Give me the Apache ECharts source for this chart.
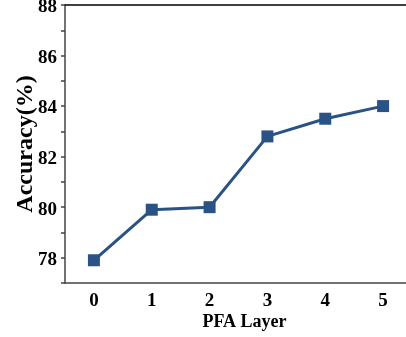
<!DOCTYPE html>
<html>
<head>
<meta charset="utf-8">
<script src="https://cdn.jsdelivr.net/npm/echarts@6/dist/echarts.min.js"></script>
<style>
  html, body { margin: 0; padding: 0; background: #fff; }
  #main { width: 406px; height: 337px; }
</style>
</head>
<body>
<div id="main"></div>
<script>
// PFA layer count vs accuracy
var layers = ["0", "1", "2", "3", "4", "5"];
var accuracy = [77.9, 79.9, 80.0, 82.8, 83.5, 84.0];

var font = "'Liberation Serif', 'Times New Roman', serif";
var chart = echarts.init(document.getElementById("main"));

var option = {
  animation: false,
  grid: { left: 65, right: -6, top: 5, bottom: 54, outerBoundsMode: "none", containLabel: false },
  xAxis: [
    {
      type: "category",
      data: layers,
      boundaryGap: true,
      name: "PFA Layer",
      nameLocation: "middle",
      nameGap: 30,
      nameMoveOverlap: false,
      nameTextStyle: { fontFamily: font, fontWeight: "bold", fontSize: 18, color: "#000", padding: [0, 0, 0, 12] },
      axisLine: { lineStyle: { color: "#444", width: 1.5 } },
      axisTick: { alignWithLabel: true, length: 5, lineStyle: { color: "#444", width: 1.5 } },
      axisLabel: { fontFamily: font, fontWeight: "bold", fontSize: 19, color: "#000", margin: 9 }
    },
    {
      type: "category",
      data: layers,
      position: "top",
      axisLine: { lineStyle: { color: "#000", width: 1.5 } },
      axisTick: { show: false },
      axisLabel: { show: false }
    }
  ],
  yAxis: {
    type: "value",
    min: 77,
    max: 88,
    interval: 1,
    name: "Accuracy(%)",
    nameLocation: "middle",
    nameGap: 27,
    nameMoveOverlap: false,
    nameTextStyle: { fontFamily: font, fontWeight: "bold", fontSize: 24, color: "#000" },
    axisLine: { show: true, lineStyle: { color: "#444", width: 1.5 } },
    axisTick: { show: true, length: 4, lineStyle: { color: "#444", width: 1.5 } },
    splitLine: { show: false },
    axisLabel: {
      color: "#000", margin: 8,
      formatter: function (v) { return v % 2 === 0 ? "{v|" + v + "}" : ""; },
      rich: {
        v: { fontFamily: font, fontWeight: "bold", fontSize: 19, color: "#000", padding: [5, 0, 0, 0] }
      }
    }
  },
  series: [
    {
      type: "line",
      data: accuracy,
      symbol: "rect",
      symbolSize: 12,
      lineStyle: { color: "#2b5285", width: 3 },
      itemStyle: { color: "#2b5285" }
    }
  ]
};

chart.setOption(option);
</script>
</body>
</html>
